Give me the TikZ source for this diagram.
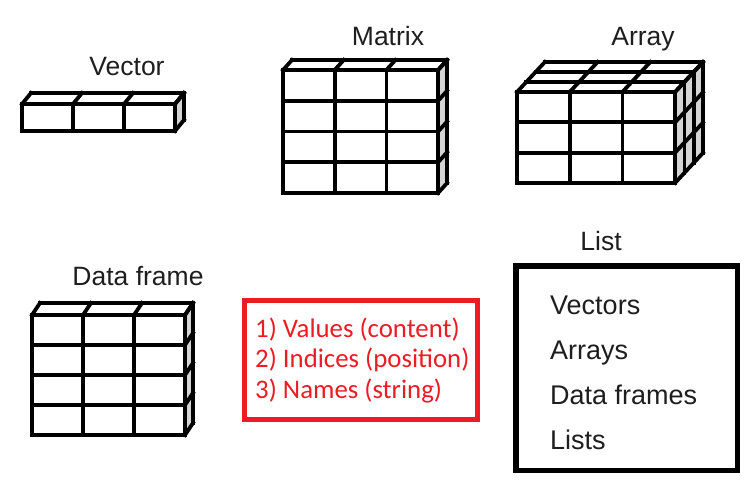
\documentclass[tikz,border=0pt]{standalone}
\usepackage{fontspec}
\setmainfont{Liberation Sans}
\newfontfamily\calib{Carlito}
\definecolor{boxred}{RGB}{237,28,36}
\definecolor{txtgray}{RGB}{30,30,30}
\definecolor{sidegray}{RGB}{212,212,212}
\tikzset{
  gridline/.style={line width=3.8pt, line cap=rect, line join=miter, draw=black},
  lbl/.style={font=\fontsize{26.5}{30}\selectfont, text=txtgray, inner sep=0pt, anchor=base},
  item/.style={font=\fontsize{27}{30}\selectfont, text=txtgray, inner sep=0pt, anchor=base west},
  redtxt/.style={font=\calib\fontsize{26.8}{30}\selectfont, text=boxred, inner sep=0pt, anchor=base west},
}
% #1 x, #2 y (front top-left), #3 cell w, #4 cell h, #5 cols, #6 rows, #7 depth, #8 dx, #9 dy
\newcommand{\cubegrid}[9]{%
  \pgfmathsetmacro{\gx}{#1}\pgfmathsetmacro{\gy}{#2}%
  \pgfmathsetmacro{\gW}{#3*#5}\pgfmathsetmacro{\gH}{#4*#6}%
  \pgfmathsetmacro{\gDX}{#8*#7}\pgfmathsetmacro{\gDY}{#9*#7}%
  \fill[white] (\gx,\gy) rectangle ++(\gW,\gH);
  \fill[white] (\gx,\gy) -- ++(\gDX,-\gDY) -- ++(\gW,0) -- ++(-\gDX,\gDY) -- cycle;
  \fill[sidegray] (\gx+\gW,\gy) -- ++(\gDX,-\gDY) -- ++(0,\gH) -- ++(-\gDX,\gDY) -- cycle;
  \foreach \i in {0,...,#5}{\draw[gridline] (\gx+\i*#3,\gy) -- ++(0,\gH);
    \draw[gridline] (\gx+\i*#3,\gy) -- ++(\gDX,-\gDY);}
  \foreach \j in {0,...,#6}{\draw[gridline] (\gx,\gy+\j*#4) -- ++(\gW,0);
    \draw[gridline] (\gx+\gW,\gy+\j*#4) -- ++(\gDX,-\gDY);}
  \foreach \k in {0,...,#7}{\draw[gridline] (\gx+\k*#8,\gy-\k*#9) -- ++(\gW,0);
    \draw[gridline] (\gx+\gW+\k*#8,\gy-\k*#9) -- ++(0,\gH);}
}
\begin{document}
\begin{tikzpicture}[x=1pt,y=-1pt]
\useasboundingbox[fill=white] (0,0) rectangle (755,491);
% Vector
\cubegrid{22}{104}{51}{27}{3}{1}{1}{9}{11}
\node[lbl] (vector) at (127,75) {Vector};
% Matrix
\cubegrid{283}{70}{51.7}{30.75}{3}{4}{1}{9}{10}
\node[lbl] (matrix) at (388,45) {Matrix};
% Array
\cubegrid{517}{92}{52.7}{30.3}{3}{3}{3}{9.3}{10}
\node[lbl] (array) at (643,45) {Array};
% Data frame
\cubegrid{32}{315}{51}{30}{3}{4}{1}{8}{12}
\node[lbl] (dataframe) at (138,285) {Data frame};
% Red box
\draw[boxred, line width=5pt] (244.5,300.5) rectangle (477.5,419.5);
\node[redtxt] (r1) at (255,337) {1) Values (content)};
\node[redtxt] (r2) at (255,367) {2) Indices (position)};
\node[redtxt] (r3) at (255,398) {3) Names (string)};
% List
\node[lbl] (list) at (601,250) {List};
\draw[black, line width=5.5pt] (515.75,265.75) rectangle (737.25,470.25);
\node[item] (l1) at (550,314) {Vectors};
\node[item] (l2) at (550,359) {Arrays};
\node[item] (l3) at (550,404) {Data frames};
\node[item] (l4) at (550,449) {Lists};
\end{tikzpicture}
\end{document}
